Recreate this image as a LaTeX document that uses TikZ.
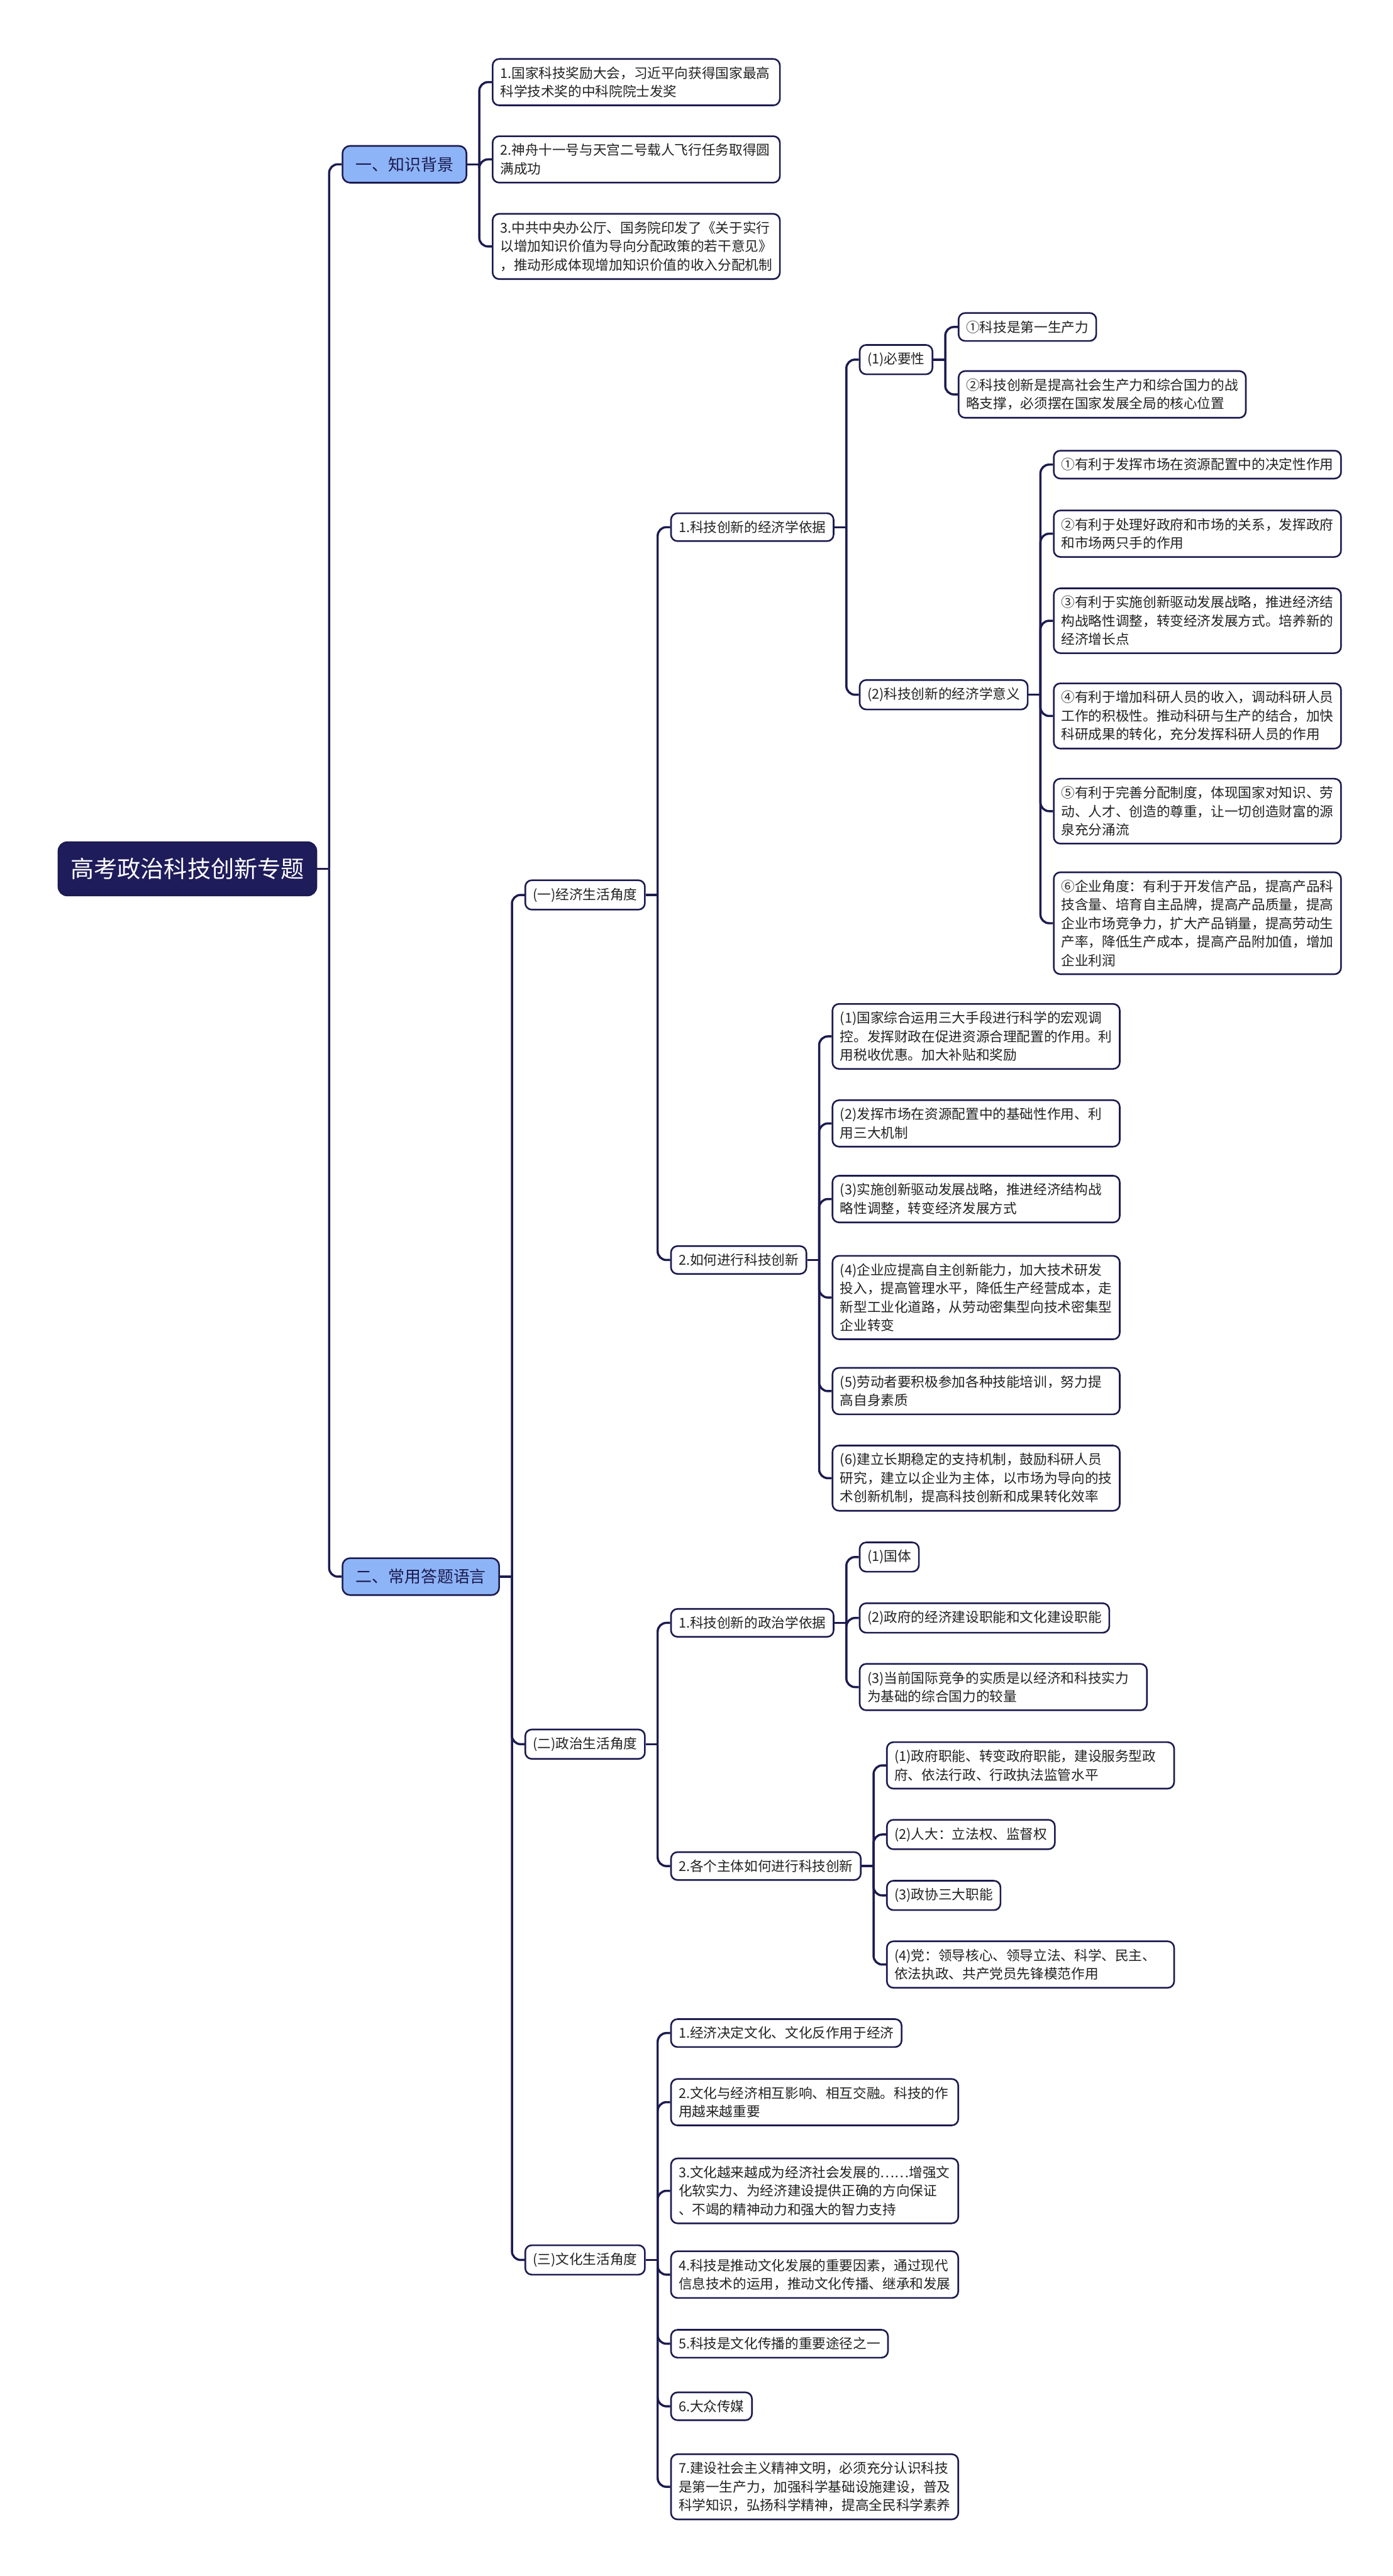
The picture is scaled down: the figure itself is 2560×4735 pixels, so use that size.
\documentclass[tikz,border=0pt]{standalone}
\usepackage{fontspec}
\newfontfamily\cjk{Noto Sans CJK SC}
\definecolor{navy}{HTML}{1C1B4F}
\definecolor{rootfill}{HTML}{1F1C5B}
\definecolor{lblue}{HTML}{8DB4F6}
\definecolor{txt}{HTML}{222222}
\pgfdeclarelayer{bg}
\pgfsetlayers{bg,main}
\begin{document}
\begin{tikzpicture}[x=1pt,y=-1pt,
 conn/.style={draw=navy,line width=4pt,rounded corners=16pt},
 base/.style={draw=navy,line width=3pt,fill=white,rounded corners=12pt,anchor=west,text=txt,align=left},
 leaf/.style={base,font=\cjk\fontsize{25}{34}\selectfont,inner xsep=14pt,inner ysep=14pt},
 wrap/.style={leaf,text width=500pt},
 lvl1/.style={base,fill=lblue,text=navy,rounded corners=14pt,font=\cjk\fontsize{30}{36}\selectfont,inner xsep=24pt,inner ysep=20pt},
 rootn/.style={base,fill=rootfill,text=white,rounded corners=16pt,font=\cjk\fontsize{43}{50}\selectfont,inner xsep=22pt,inner ysep=29pt}
]
\useasboundingbox (0,0) rectangle (2560,4735);

% root and level 1
\node[rootn] (R) at (106,1597) {高考政治科技创新专题};
\coordinate (Rx) at ([xshift=45pt]R.east);
\node[lvl1] (K) at (Rx |- 0,302) {一、知识背景};
\node[lvl1] (C) at (Rx |- 0,2898) {二、常用答题语言};

% knowledge background
\coordinate (Kx) at ([xshift=45pt]K.east);
\node[wrap] (k1) at (Kx |- 0,151) {1.国家科技奖励大会，习近平向获得国家最高\\科学技术奖的中科院院士发奖};
\node[wrap] (k2) at (Kx |- 0,293) {2.神舟十一号与天宫二号载人飞行任务取得圆\\满成功};
\node[wrap] (k3) at (Kx |- 0,453) {3.中共中央办公厅、国务院印发了《关于实行\\以增加知识价值为导向分配政策的若干意见》\\，推动形成体现增加知识价值的收入分配机制};

% level 2
\coordinate (Cx) at ([xshift=45pt]C.east);
\node[leaf] (e) at (Cx |- 0,1645) {(一)经济生活角度};
\node[leaf] (p) at (Cx |- 0,3206) {(二)政治生活角度};
\node[leaf] (w) at (Cx |- 0,4154) {(三)文化生活角度};

% economic
\coordinate (ex) at ([xshift=45pt]e.east);
\node[leaf] (e1) at (ex |- 0,969) {1.科技创新的经济学依据};
\node[leaf] (e2) at (ex |- 0,2316) {2.如何进行科技创新};

\coordinate (e1x) at ([xshift=45pt]e1.east);
\node[leaf] (n1) at (e1x |- 0,661) {(1)必要性};
\node[leaf] (n2) at (e1x |- 0,1277) {(2)科技创新的经济学意义};

\coordinate (n1x) at ([xshift=45pt]n1.east);
\node[leaf] (n1a) at (n1x |- 0,601) {①科技是第一生产力};
\node[wrap] (n1b) at (n1x |- 0,725) {②科技创新是提高社会生产力和综合国力的战\\略支撑，必须摆在国家发展全局的核心位置};

\coordinate (n2x) at ([xshift=45pt]n2.east);
\node[wrap] (n2a) at (n2x |- 0,854) {①有利于发挥市场在资源配置中的决定性作用};
\node[wrap] (n2b) at (n2x |- 0,981) {②有利于处理好政府和市场的关系，发挥政府\\和市场两只手的作用};
\node[wrap] (n2c) at (n2x |- 0,1141) {③有利于实施创新驱动发展战略，推进经济结\\构战略性调整，转变经济发展方式。培养新的\\经济增长点};
\node[wrap] (n2d) at (n2x |- 0,1316) {④有利于增加科研人员的收入，调动科研人员\\工作的积极性。推动科研与生产的结合，加快\\科研成果的转化，充分发挥科研人员的作用};
\node[wrap] (n2e) at (n2x |- 0,1491) {⑤有利于完善分配制度，体现国家对知识、劳\\动、人才、创造的尊重，让一切创造财富的源\\泉充分涌流};
\node[wrap] (n2f) at (n2x |- 0,1697) {⑥企业角度：有利于开发信产品，提高产品科\\技含量、培育自主品牌，提高产品质量，提高\\企业市场竞争力，扩大产品销量，提高劳动生\\产率，降低生产成本，提高产品附加值，增加\\企业利润};

\coordinate (e2x) at ([xshift=45pt]e2.east);
\node[wrap] (h1) at (e2x |- 0,1905) {(1)国家综合运用三大手段进行科学的宏观调\\控。发挥财政在促进资源合理配置的作用。利\\用税收优惠。加大补贴和奖励};
\node[wrap] (h2) at (e2x |- 0,2065) {(2)发挥市场在资源配置中的基础性作用、利\\用三大机制};
\node[wrap] (h3) at (e2x |- 0,2204) {(3)实施创新驱动发展战略，推进经济结构战\\略性调整，转变经济发展方式};
\node[wrap] (h4) at (e2x |- 0,2385) {(4)企业应提高自主创新能力，加大技术研发\\投入，提高管理水平，降低生产经营成本，走\\新型工业化道路，从劳动密集型向技术密集型\\企业转变};
\node[wrap] (h5) at (e2x |- 0,2557) {(5)劳动者要积极参加各种技能培训，努力提\\高自身素质};
\node[wrap] (h6) at (e2x |- 0,2717) {(6)建立长期稳定的支持机制，鼓励科研人员\\研究，建立以企业为主体，以市场为导向的技\\术创新机制，提高科技创新和成果转化效率};

% political
\coordinate (px) at ([xshift=45pt]p.east);
\node[leaf] (p1) at (px |- 0,2983) {1.科技创新的政治学依据};
\node[leaf] (p2) at (px |- 0,3430) {2.各个主体如何进行科技创新};

\coordinate (p1x) at ([xshift=45pt]p1.east);
\node[leaf] (q1) at (p1x |- 0,2862) {(1)国体};
\node[leaf] (q2) at (p1x |- 0,2974) {(2)政府的经济建设职能和文化建设职能};
\node[wrap] (q3) at (p1x |- 0,3101) {(3)当前国际竞争的实质是以经济和科技实力\\为基础的综合国力的较量};

\coordinate (p2x) at ([xshift=45pt]p2.east);
\node[wrap] (r1) at (p2x |- 0,3245) {(1)政府职能、转变政府职能，建设服务型政\\府、依法行政、行政执法监管水平};
\node[leaf] (r2) at (p2x |- 0,3372) {(2)人大：立法权、监督权};
\node[leaf] (r3) at (p2x |- 0,3484) {(3)政协三大职能};
\node[wrap] (r4) at (p2x |- 0,3611) {(4)党：领导核心、领导立法、科学、民主、\\依法执政、共产党员先锋模范作用};

% cultural
\coordinate (wx) at ([xshift=45pt]w.east);
\node[leaf] (c1) at (wx |- 0,3737) {1.经济决定文化、文化反作用于经济};
\node[wrap] (c2) at (wx |- 0,3864) {2.文化与经济相互影响、相互交融。科技的作\\用越来越重要};
\node[wrap] (c3) at (wx |- 0,4027) {3.文化越来越成为经济社会发展的……增强文\\化软实力、为经济建设提供正确的方向保证\\、不竭的精神动力和强大的智力支持};
\node[wrap] (c4) at (wx |- 0,4181) {4.科技是推动文化发展的重要因素，通过现代\\信息技术的运用，推动文化传播、继承和发展};
\node[leaf] (c5) at (wx |- 0,4308) {5.科技是文化传播的重要途径之一};
\node[leaf] (c6) at (wx |- 0,4423) {6.大众传媒};
\node[wrap] (c7) at (wx |- 0,4571) {7.建设社会主义精神文明，必须充分认识科技\\是第一生产力，加强科学基础设施建设，普及\\科学知识，弘扬科学精神，提高全民科学素养};

\begin{pgfonlayer}{bg}
\fill[white] (0,0) rectangle (2560,4735);
% connectors
\foreach \p/\cs in {R/{K,C}, K/{k1,k2,k3}, C/{e,p,w}, e/{e1,e2}, e1/{n1,n2},
  n1/{n1a,n1b}, n2/{n2a,n2b,n2c,n2d,n2e,n2f}, e2/{h1,h2,h3,h4,h5,h6},
  p/{p1,p2}, p1/{q1,q2,q3}, p2/{r1,r2,r3,r4}, w/{c1,c2,c3,c4,c5,c6,c7}}{
  \draw[conn] (\p.east) -- ([xshift=22pt]\p.east);
  \foreach \c in \cs {
    \draw[conn] ([xshift=22pt]\p.east) |- (\c.west);
  }
}
\end{pgfonlayer}
\end{tikzpicture}
\end{document}
